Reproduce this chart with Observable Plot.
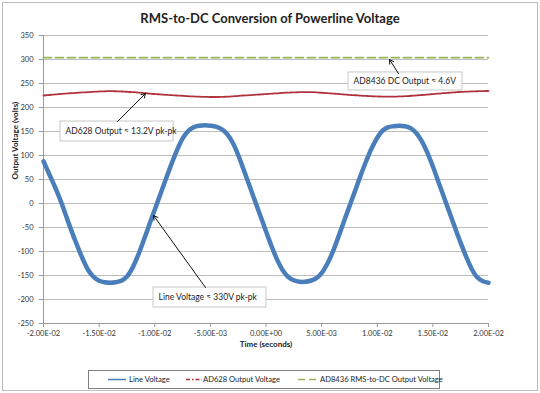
<!DOCTYPE html>
<html><head><meta charset="utf-8">
<script src="https://cdn.jsdelivr.net/npm/d3@7"></script>
<script src="https://cdn.jsdelivr.net/npm/@observablehq/plot@0.6"></script>
<style>
body{margin:0;background:#fff;font-family:Lato,"Open Sans",sans-serif;}
#page{position:relative;width:540px;height:393px;overflow:hidden;}
#frame{position:absolute;left:2px;top:2px;width:534px;height:387px;border:1px solid #bdbdbd;}
#title{position:absolute;left:0;top:10px;width:540px;text-align:center;font-weight:bold;font-size:13px;color:#222;}
#chart{position:absolute;left:0;top:30px;}
#legend{position:absolute;left:88px;top:370px;width:350px;height:17px;border:1px solid #808080;font-size:7.6px;color:#222;}
#legend .it{position:absolute;top:0;height:17px;line-height:17px;white-space:nowrap;}
#legend svg{position:absolute;top:0;}
</style></head>
<body>
<div id="page">
<div id="frame"></div>
<div id="title"></div>
<div id="chart"></div>
<div id="legend"></div>
</div>
<script>
// time in milliseconds
const timeMs = [-20,-19.5,-19,-18.5,-18,-17.5,-17,-16.5,-16,-15.5,-15,-14.5,-14,-13.5,-13,-12.5,-12,-11.5,-11,-10.5,
  -10,-9.5,-9,-8.5,-8,-7.5,-7,-6.5,-6,-5.5,-5,-4.5,-4,-3.5,-3,-2.5,-2,-1.5,-1,-0.5,
  0,0.5,1,1.5,2,2.5,3,3.5,4,4.5,5,5.5,6,6.5,7,7.5,8,8.5,9,9.5,
  10,10.5,11,11.5,12,12.5,13,13.5,14,14.5,15,15.5,16,16.5,17,17.5,18,18.5,19,19.5,20];
const lineVoltage = [88,62,36,8,-24,-56,-86,-114,-138,-153,-161,-164,-165,-164,-161,-152,-134,-108,-77,-45,
  -13,19,51,82,111,135,151,159,162,163,162,160,155,145,127,101,70,38,6,-26,
  -58,-89,-117,-139,-153,-160,-163,-163,-161,-156,-145,-126,-101,-70,-38,-6,26,58,88,115,
  137,152,159,161,162,161,157,147,130,106,77,45,13,-19,-51,-82,-111,-137,-154,-162,-165];
const ad628TimeMs = [-20,-18,-16,-14,-12,-10,-8,-6,-4,-2,0,2,4,6,8,10,12,14,16,18,20];
const ad628Output = [225,229,232,234,232,228,225,222.5,222,225,228,231,232,229,225.5,223,223,226,230,233,234.5];
const ad8436TimeMs = [-20,20];
const ad8436Output = [304,304];

const yTicks = [-250,-200,-150,-100,-50,0,50,100,150,200,250,300,350];
const xTicks = [-20,-15,-10,-5,0,5,10,15,20];
const xTickLabels = ["-2.00E-02","-1.50E-02","-1.00E-02","-5.00E-03","0.00E+00","5.00E-03","1.00E-02","1.50E-02","2.00E-02"];

const seriesNames = ["Line Voltage","AD628 Output Voltage","AD8436  RMS-to-DC Output Voltage"];
const titleText = "RMS-to-DC Conversion of Powerline Voltage";
const xLabel = "Time (seconds)";
const yLabel = "Output Voltage (volts)";

// annotations: box extents and arrows in data units (ms, volts)
const annoText = ["AD8436 DC Output \u2248 4.6V","AD628 Output \u2248 13.2V pk-pk","Line Voltage \u2248 330V pk-pk"];
const annoT1 = [7.42,-18.47,-10.11];
const annoT2 = [17.66,-8.31,0.04];
const annoV1 = [235.4,129.2,-216.7];
const annoV2 = [273,170.8,-175];
const arrowT1 = [11.91,-13.35,-5.44];
const arrowV1 = [270.8,170.8,-175];
const arrowT2 = [11.1,-10.83,-10.11];
const arrowV2 = [300,229.2,-25];

const colors = {line:"#4a7ebb", ad628:"#b0303c", ad8436:"#9bb25a"};

const lineData = timeMs.map((t,i)=>({t, v: lineVoltage[i]}));
const ad628Data = ad628TimeMs.map((t,i)=>({t, v: ad628Output[i]}));
const ad8436Data = ad8436TimeMs.map((t,i)=>({t, v: ad8436Output[i]}));
const annos = annoText.map((s,i)=>({s, t1: annoT1[i], t2: annoT2[i], v1: annoV1[i], v2: annoV2[i], vm:(annoV1[i]+annoV2[i])/2}));
const arrows = arrowT1.map((t,i)=>({t1:t, v1: arrowV1[i], t2: arrowT2[i], v2: arrowV2[i]}));

document.getElementById("title").textContent = titleText;

const chart = Plot.plot({
  width: 540, height: 330,
  marginLeft: 43, marginRight: 52, marginTop: 5, marginBottom: 37,
  x: {domain: [-20, 20]},
  y: {domain: [-250, 350]},
  style: {fontFamily: "Lato, sans-serif", background: "transparent", overflow: "visible"},
  marks: [
    Plot.gridY(yTicks, {stroke: "#bdbdbd", strokeOpacity: 1}),
    Plot.ruleY([-250], {stroke: "#9a9a9a"}),
    Plot.ruleX([-20], {stroke: "#9a9a9a"}),
    Plot.axisY({ticks: yTicks, tickSize: 4, tickPadding: 6, tickFormat: d => String(d), fontSize: 7.5, stroke: "#9a9a9a", fill: "#333", label: null}),
    Plot.axisX({ticks: xTicks, tickSize: 4, tickPadding: 3, tickFormat: d => xTickLabels[xTicks.indexOf(d)], fontSize: 7.5, stroke: "#9a9a9a", fill: "#333", label: null}),
    Plot.text([xLabel], {frameAnchor: "bottom", dy: 23, fontWeight: "bold", fontSize: 8, fill: "#222"}),
    Plot.text([yLabel], {frameAnchor: "left", dx: -28, rotate: -90, fontWeight: "bold", fontSize: 8, fill: "#222"}),
    Plot.line(ad8436Data, {x: "t", y: "v", stroke: colors.ad8436, strokeWidth: 1.8, strokeDasharray: "8,4"}),
    Plot.line(ad628Data, {x: "t", y: "v", stroke: colors.ad628, strokeWidth: 1.8, strokeDasharray: "3,1,1,1", curve: "catmull-rom"}),
    Plot.line(lineData, {x: "t", y: "v", stroke: colors.line, strokeWidth: 4.5, curve: "catmull-rom"}),
    Plot.rect(annos, {x1: "t1", x2: "t2", y1: "v1", y2: "v2", fill: "white", stroke: "#c8c8c8"}),
    Plot.text(annos, {x: "t1", y: "vm", text: "s", textAnchor: "start", dx: 5, fontSize: 8.5, fill: "#222"}),
    Plot.arrow(arrows, {x1: "t1", y1: "v1", x2: "t2", y2: "v2", stroke: "#111", strokeWidth: 1, headLength: 7})
  ]
});
document.getElementById("chart").appendChild(chart);

// legend
const leg = document.getElementById("legend");
const items = [
  {x: 19, w: 18, tx: 40, color: colors.line, dash: null, sw: 1.5},
  {x: 97, w: 16, tx: 114, color: colors.ad628, dash: "4,2,1.5,2", sw: 1.5},
  {x: 209, w: 21, tx: 231, color: colors.ad8436, dash: "7,4", sw: 1.5}
];
items.forEach((it, i) => {
  const s = d3.create("svg").attr("width", it.w).attr("height", 17).style("left", it.x + "px");
  s.append("line").attr("x1", 0).attr("x2", it.w).attr("y1", 8.5).attr("y2", 8.5)
    .attr("stroke", it.color).attr("stroke-width", it.sw).attr("stroke-dasharray", it.dash);
  leg.appendChild(s.node());
  const d = document.createElement("div");
  d.className = "it"; d.style.left = it.tx + "px"; d.textContent = seriesNames[i];
  leg.appendChild(d);
});
</script>
</body></html>
